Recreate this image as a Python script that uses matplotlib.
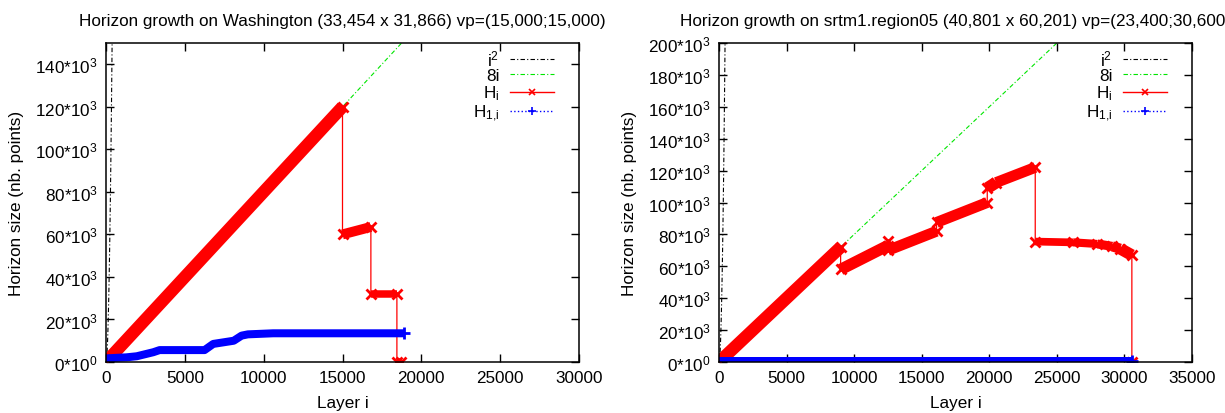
import numpy as np
import matplotlib.pyplot as plt
from matplotlib.lines import Line2D
from matplotlib.ticker import FuncFormatter

plt.rcParams['font.family'] = ['Liberation Sans', 'DejaVu Sans']
plt.rcParams['mathtext.default'] = 'regular'
FONTSIZE = 12.3

# --- Washington ---
wa_title = "Horizon growth on Washington (33,454 x 31,866) vp=(15,000;15,000)"
wa_xmax, wa_ymax = 30000, 150000
wa_h_x = [0, 15000, 15000, 16800, 16800, 18450, 18450, 18700]
wa_h_y = [0, 120000, 60000, 63500, 32000, 32000, 0, 0]
wa_h1_x = [0, 1300, 1950, 3000, 3400, 6250, 6800, 8100, 8600, 9000, 10600, 18900]
wa_h1_y = [1700, 2200, 2700, 4600, 5600, 5600, 8500, 10000, 12400, 13000, 13500, 13500]

# --- srtm1.region05 ---
sr_title = "Horizon growth on srtm1.region05 (40,801 x 60,201) vp=(23,400;30,600)"
sr_xmax, sr_ymax = 35000, 200000
sr_h_x = [0, 9000, 9000, 12500, 12500, 12500, 16100, 16100, 19850, 19850, 20500,
          23400, 23400, 26200, 28000, 29100, 29700, 30550, 30550]
sr_h_y = [0, 72000, 58000, 73000, 76000, 70000, 82000, 87500, 100000, 109000, 112500,
          122000, 75500, 75000, 74000, 72500, 71000, 67000, 0]
sr_h1_x = [0, 30550]
sr_h1_y = [800, 800]

PX = 72 / 100  # points per pixel
DASHDOT = (4, 2, 1, 2)


def band_lw(ax, x0, y0, x1, y1):
    # thickness of a run of dense markers depends on on-screen slope
    (a, b), (c, d) = ax.transData.transform([(x0, y0), (x1, y1)])
    th = np.arctan2(d - b, c - a)
    return (7.5 + 5 * abs(np.sin(2 * th))) * PX


def fmt_y(v, pos):
    if v == 0:
        return '0*10$^{0}$'
    return '%d*10$^{3}$' % int(round(v / 1000))


def draw(ax, title, xmax, ymax, h_x, h_y, h1_x, h1_y):
    ax.set_xlim(0, xmax)
    ax.set_ylim(0, ymax)

    i2 = np.linspace(0, np.sqrt(ymax), 60)
    ax.plot(i2, i2 ** 2, color='black', lw=0.8, dashes=DASHDOT)
    lin_x = np.array([0, ymax / 8])
    ax.plot(lin_x, 8 * lin_x, color='#00e600', lw=0.8, dashes=DASHDOT)

    ax.plot(h_x, h_y, color='red', lw=0.9)
    for k in range(len(h_x) - 1):
        if h_x[k + 1] > h_x[k]:
            ax.plot(h_x[k:k + 2], h_y[k:k + 2], color='red',
                    lw=band_lw(ax, h_x[k], h_y[k], h_x[k + 1], h_y[k + 1]),
                    solid_capstyle='butt')
    ax.plot(h_x, h_y, 'x', color='red', ms=7, mew=2)

    ax.plot(h1_x, h1_y, color='blue', lw=8 * PX, solid_capstyle='butt',
            solid_joinstyle='round')
    ax.plot(h1_x[-1:], h1_y[-1:], '+', color='blue', ms=8, mew=2)

    ax.set_xticks(np.arange(0, xmax + 1, 5000))
    ax.set_yticks(np.arange(0, ymax + 1, 20000))
    ax.yaxis.set_major_formatter(FuncFormatter(fmt_y))
    ax.tick_params(direction='in', length=6, width=1, top=True, right=True,
                   labelsize=FONTSIZE, pad=6)
    for s in ax.spines.values():
        s.set_linewidth(1.1)
    ax.set_title(title, fontsize=FONTSIZE, pad=13)
    ax.set_xlabel('Layer i', fontsize=FONTSIZE, labelpad=7)
    ax.set_ylabel('Horizon size (nb. points)', fontsize=FONTSIZE, labelpad=8)

    handles = [
        Line2D([0], [0], color='black', lw=0.8, dashes=DASHDOT),
        Line2D([0], [0], color='#00e600', lw=0.8, dashes=DASHDOT),
        Line2D([0], [0], color='red', lw=1, marker='x', ms=5, mew=1.2),
        Line2D([0], [0], color='blue', lw=1, ls=':', marker='+', ms=6, mew=1.2),
    ]
    ax.legend(handles, ['i$^2$', '8i', 'H$_i$', 'H$_{1{,}i}$'], loc='upper right',
              bbox_to_anchor=(0.958, 1.0), markerfirst=False, frameon=False,
              fontsize=FONTSIZE, handlelength=2.6, handletextpad=0.6,
              labelspacing=0.02, numpoints=1, borderaxespad=0, borderpad=0.3)


fig = plt.figure(figsize=(12.25, 4.14), dpi=100)
ax1 = fig.add_axes([106 / 1225, 51 / 414, 473 / 1225, 319 / 414])
ax2 = fig.add_axes([719 / 1225, 51 / 414, 473 / 1225, 319 / 414])
draw(ax1, wa_title, wa_xmax, wa_ymax, wa_h_x, wa_h_y, wa_h1_x, wa_h1_y)
draw(ax2, sr_title, sr_xmax, sr_ymax, sr_h_x, sr_h_y, sr_h1_x, sr_h1_y)

fig.savefig('out.png', dpi=100)
